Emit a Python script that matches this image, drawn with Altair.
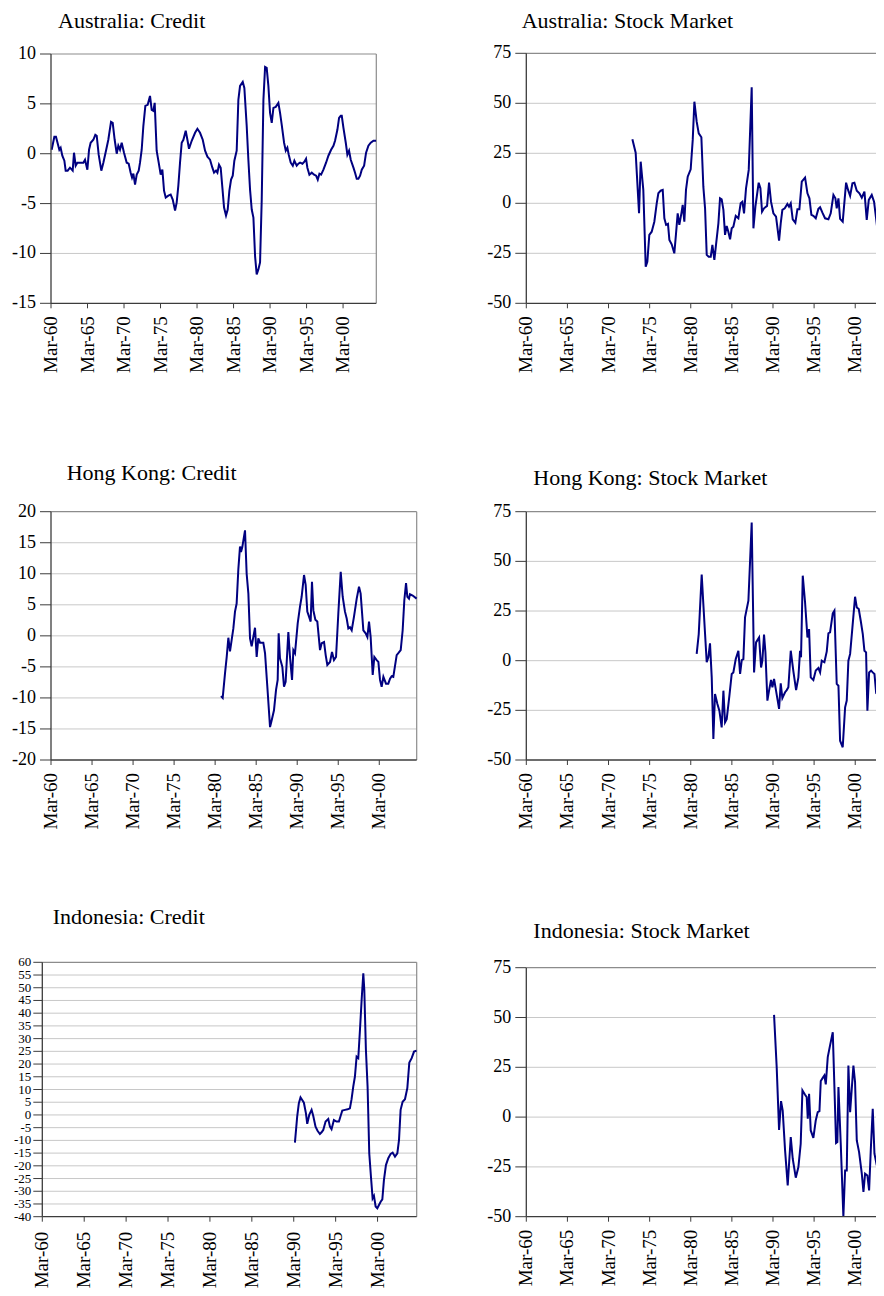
import altair as alt
import pandas as pd

# ---------------- data (x = year, where 1960 = "Mar-60") ----------------
aus_credit_year = [1960.09, 1960.46, 1960.68, 1961.14, 1961.32, 1961.55, 1961.83, 1962.01, 1962.28, 1962.60,
                   1962.97, 1963.15, 1963.38, 1963.61, 1963.97, 1964.43, 1964.66, 1964.98, 1965.21, 1965.43,
                   1965.80, 1966.07, 1966.26, 1966.53, 1966.89, 1967.17, 1967.53, 1967.85, 1968.22, 1968.45,
                   1968.72, 1969.00, 1969.22, 1969.45, 1969.68, 1970.00, 1970.37, 1970.64, 1970.91, 1971.10,
                   1971.28, 1971.51, 1971.74, 1972.01, 1972.19, 1972.42, 1972.65, 1972.92, 1973.24, 1973.56,
                   1973.79, 1974.02, 1974.20, 1974.47, 1974.75, 1975.02, 1975.25, 1975.48, 1975.71, 1976.07,
                   1976.39, 1976.67, 1976.99, 1977.21, 1977.44, 1977.67, 1977.90, 1978.13, 1978.45, 1978.68,
                   1978.90, 1979.27, 1979.73, 1980.05, 1980.41, 1980.78, 1981.10, 1981.42, 1981.78, 1982.10,
                   1982.33, 1982.60, 1982.79, 1983.01, 1983.24, 1983.47, 1983.70, 1983.97, 1984.20, 1984.43,
                   1984.66, 1984.89, 1985.11, 1985.43, 1985.66, 1985.89, 1986.26, 1986.48, 1986.80, 1987.03,
                   1987.26, 1987.49, 1987.72, 1987.95, 1988.17, 1988.40, 1988.63, 1988.86, 1989.09, 1989.32,
                   1989.54, 1989.77, 1990.00, 1990.23, 1990.46, 1990.78, 1991.14, 1991.37, 1991.60, 1991.92,
                   1992.15, 1992.37, 1992.56, 1992.83, 1993.11, 1993.33, 1993.65, 1993.88, 1994.11, 1994.43,
                   1994.70, 1994.93, 1995.11, 1995.39, 1995.71, 1996.03, 1996.30, 1996.53, 1996.76, 1996.99,
                   1997.31, 1997.67, 1997.99, 1998.36, 1998.68, 1998.90, 1999.22, 1999.45, 1999.68, 1999.82,
                   2000.05, 2000.37, 2000.59, 2000.82, 2001.05, 2001.42, 2001.64, 2001.87, 2002.10, 2002.33,
                   2002.56, 2002.88, 2003.15, 2003.47, 2003.79, 2004.16, 2004.52]
aus_credit_val = [0.4, 1.7, 1.7, 0.4, 0.6, -0.2, -0.7, -1.7, -1.7, -1.4,
                  -1.7, 0.1, -1.2, -0.9, -0.9, -0.9, -0.6, -1.6, 0.4, 1.1,
                  1.4, 1.9, 1.8, -0.1, -1.7, -0.9, 0.3, 1.4, 3.2, 3.1,
                  1.4, 0.0, 0.8, 0.4, 1.1, 0.1, -0.9, -1.0, -1.9, -2.4,
                  -2.0, -3.1, -2.1, -1.7, -0.9, 0.4, 2.8, 4.8, 4.9, 5.8,
                  4.4, 4.3, 5.1, 0.3, -0.9, -2.1, -1.6, -3.7, -4.4, -4.2,
                  -4.1, -4.6, -5.7, -4.9, -3.2, -0.9, 1.1, 1.4, 2.3, 1.4,
                  0.5, 1.3, 2.1, 2.5, 2.1, 1.4, 0.3, -0.3, -0.6, -1.4,
                  -1.9, -1.7, -1.9, -1.1, -1.4, -3.4, -5.4, -6.2, -5.6, -3.7,
                  -2.6, -2.2, -0.7, 0.3, 5.4, 6.8, 7.2, 6.6, 2.8, -0.6,
                  -3.6, -5.6, -6.4, -10.3, -12.1, -11.6, -10.9, -4.6, 5.4, 8.7,
                  8.6, 6.8, 4.1, 3.1, 4.6, 4.7, 5.1, 4.1, 2.9, 1.1,
                  0.3, 0.6, -0.1, -0.9, -1.2, -0.7, -1.2, -1.0, -0.9, -1.0,
                  -0.8, -0.5, -1.4, -2.1, -1.9, -2.1, -2.2, -2.6, -2.0, -2.1,
                  -1.6, -0.9, -0.2, 0.4, 0.8, 1.3, 2.4, 3.6, 3.8, 3.8,
                  2.6, 1.1, -0.1, 0.3, -0.6, -1.4, -1.9, -2.5, -2.5, -2.2,
                  -1.6, -1.2, 0.1, 0.8, 1.1, 1.3, 1.3]

aus_stock_year = [1972.90, 1973.30, 1973.71, 1973.91, 1974.23, 1974.52, 1974.72, 1974.96, 1975.25, 1975.57,
                  1975.86, 1976.06, 1976.34, 1976.59, 1976.79, 1977.00, 1977.23, 1977.40, 1977.68, 1978.00,
                  1978.21, 1978.41, 1978.61, 1978.86, 1979.02, 1979.22, 1979.42, 1979.63, 1979.99, 1980.24,
                  1980.44, 1980.72, 1980.97, 1981.29, 1981.53, 1981.74, 1981.94, 1982.18, 1982.43, 1982.63,
                  1982.87, 1983.07, 1983.36, 1983.56, 1983.76, 1983.97, 1984.17, 1984.37, 1984.57, 1984.78,
                  1984.98, 1985.18, 1985.47, 1985.79, 1986.07, 1986.28, 1986.48, 1986.72, 1987.05, 1987.41,
                  1987.62, 1987.86, 1988.26, 1988.47, 1988.67, 1988.91, 1989.28, 1989.52, 1989.76, 1990.05,
                  1990.37, 1990.74, 1990.94, 1991.14, 1991.43, 1991.75, 1991.95, 1992.16, 1992.40, 1992.72,
                  1992.97, 1993.21, 1993.50, 1993.90, 1994.19, 1994.43, 1994.67, 1994.91, 1995.20, 1995.52,
                  1995.73, 1996.01, 1996.33, 1996.74, 1997.02, 1997.35, 1997.59, 1997.75, 1997.96, 1998.16,
                  1998.48, 1998.89, 1999.13, 1999.38, 1999.66, 1999.90, 2000.19, 2000.51, 2000.80, 2001.12,
                  2001.40, 2001.65, 2002.01, 2002.29, 2002.54, 2002.82, 2003.11, 2003.45]
aus_stock_val = [32.0, 25.3, -5.0, 20.8, 6.7, -31.7, -29.2, -15.8, -14.2, -9.2,
                 0.0, 5.0, 6.3, 6.7, -7.5, -10.8, -10.3, -18.3, -20.5, -25.0,
                 -15.0, -5.0, -10.8, -5.0, -0.8, -9.2, 6.7, 13.3, 17.0, 31.7,
                 50.8, 40.8, 35.0, 33.0, 8.3, -2.5, -25.8, -26.7, -26.7, -20.8,
                 -28.3, -20.8, -10.0, 2.5, 2.0, -3.3, -15.8, -11.3, -14.2, -18.0,
                 -12.5, -11.7, -6.3, -7.5, 0.0, 0.8, -5.0, 7.5, 16.7, 58.0,
                 -12.5, -1.7, 10.3, 7.5, -4.2, -2.5, -1.3, 10.3, 0.8, -5.0,
                 -6.7, -18.7, -10.0, -3.3, -2.5, -0.3, -1.7, 0.0, -8.0, -9.7,
                 -3.0, -3.0, 10.8, 12.8, 5.0, 2.5, -5.8, -6.3, -7.5, -2.8,
                 -2.0, -4.7, -7.5, -8.0, -5.0, 4.2, 2.5, -2.5, 2.5, -7.8,
                 -9.2, 10.3, 6.7, 3.7, 10.0, 10.3, 6.3, 5.0, 2.8, 5.8,
                 -8.3, 1.7, 4.2, 0.8, -7.5, -17.5, -8.3, -1.7]

hk_credit_year = [1980.71, 1980.92, 1981.20, 1981.41, 1981.61, 1981.81, 1982.01, 1982.22, 1982.42, 1982.62,
                  1982.83, 1983.03, 1983.15, 1983.31, 1983.64, 1983.84, 1984.05, 1984.25, 1984.45, 1984.65,
                  1984.86, 1985.06, 1985.26, 1985.47, 1985.87, 1986.08, 1986.36, 1986.69, 1986.89, 1987.17,
                  1987.42, 1987.62, 1987.74, 1987.90, 1988.19, 1988.39, 1988.59, 1988.92, 1989.12, 1989.37,
                  1989.53, 1989.73, 1990.06, 1990.34, 1990.54, 1990.83, 1991.03, 1991.23, 1991.44, 1991.64,
                  1991.80, 1991.97, 1992.21, 1992.45, 1992.78, 1992.98, 1993.27, 1993.47, 1993.67, 1994.00,
                  1994.24, 1994.48, 1994.73, 1995.01, 1995.30, 1995.54, 1995.82, 1996.03, 1996.23, 1996.43,
                  1996.64, 1996.92, 1997.25, 1997.53, 1997.73, 1998.06, 1998.34, 1998.55, 1998.75, 1998.95,
                  1999.20, 1999.40, 1999.68, 1999.89, 2000.09, 2000.29, 2000.50, 2000.82, 2001.10, 2001.31,
                  2001.51, 2001.71, 2002.12, 2002.32, 2002.61, 2002.85, 2003.05, 2003.26, 2003.42, 2003.62,
                  2003.74, 2004.07, 2004.55]
hk_credit_val = [-9.7, -10.0, -6.1, -3.4, -0.3, -2.5, -0.7, 1.2, 3.9, 5.2,
                 10.8, 14.4, 13.5, 14.3, 17.0, 10.0, 6.8, -0.4, -1.7, -0.2,
                 1.3, -3.4, -0.4, -1.1, -1.1, -2.8, -8.2, -14.7, -13.6, -12.0,
                 -8.7, -7.1, 0.4, -3.6, -5.0, -8.2, -7.4, 0.6, -3.4, -7.1,
                 -2.3, -2.8, 2.0, 4.7, 6.3, 9.8, 8.2, 3.9, 3.1, 2.3,
                 8.7, 4.1, 2.6, 2.3, -2.3, -1.2, -1.0, -3.1, -4.7, -4.2,
                 -2.6, -3.9, -3.4, 3.6, 10.3, 6.3, 3.9, 2.8, 1.2, 1.4,
                 0.9, 3.1, 6.0, 7.9, 6.8, 0.9, 0.4, -0.2, 2.3, -0.2,
                 -6.3, -3.4, -3.9, -4.2, -7.1, -8.2, -6.6, -7.7, -7.7, -6.9,
                 -6.5, -6.6, -3.1, -2.8, -2.3, 0.9, 5.7, 8.5, 6.3, 6.0,
                 6.7, 6.5, 6.0]

hk_stock_year = [1980.72, 1980.97, 1981.33, 1981.53, 1981.74, 1981.94, 1982.14, 1982.34, 1982.55, 1982.75,
                 1982.95, 1983.24, 1983.48, 1983.76, 1983.97, 1984.17, 1984.37, 1984.70, 1984.98, 1985.18,
                 1985.47, 1985.79, 1986.00, 1986.20, 1986.40, 1986.60, 1987.01, 1987.41, 1987.70, 1987.94,
                 1988.31, 1988.55, 1988.71, 1988.91, 1989.08, 1989.32, 1989.52, 1989.76, 1989.93, 1990.13,
                 1990.37, 1990.74, 1990.94, 1991.14, 1991.47, 1991.67, 1991.87, 1992.16, 1992.48, 1992.81,
                 1993.09, 1993.29, 1993.41, 1993.62, 1993.90, 1994.19, 1994.39, 1994.59, 1994.91, 1995.20,
                 1995.52, 1995.73, 1995.93, 1996.25, 1996.54, 1996.74, 1996.94, 1997.27, 1997.47, 1997.75,
                 1997.96, 1998.16, 1998.48, 1998.77, 1998.97, 1999.17, 1999.38, 1999.66, 1999.98, 2000.19,
                 2000.43, 2000.67, 2000.92, 2001.12, 2001.32, 2001.48, 2001.69, 2001.93, 2002.13, 2002.34,
                 2002.54, 2002.70, 2002.94, 2003.23, 2003.50]
hk_stock_val = [3.4, 13.4, 43.3, 28.5, 13.4, -0.8, 1.7, 8.7, -8.4, -39.4,
                -16.8, -21.8, -25.2, -33.6, -15.1, -31.0, -29.4, -17.6, -6.7, -5.9,
                0.8, 5.0, -6.7, 0.3, 0.8, 21.8, 30.2, 69.6, -5.9, 9.2,
                11.7, -3.4, 0.0, 13.1, 4.2, -20.1, -15.1, -9.7, -13.4, -9.2,
                -15.1, -24.3, -11.4, -18.8, -15.9, -14.8, -13.4, 5.0, -5.4, -14.8,
                -8.4, 5.0, 1.7, 42.8, 29.4, 11.7, 15.9, -8.4, -9.7, -5.0,
                -3.7, -5.9, 0.0, -0.8, 4.7, 13.8, 14.3, 23.8, 25.2, -11.7,
                -12.6, -40.3, -43.6, -23.5, -20.1, 0.0, 3.4, 16.8, 32.2, 26.8,
                26.0, 20.1, 13.4, 5.0, 4.2, -25.2, -5.9, -5.0, -5.9, -6.7,
                -15.9, -15.4, -21.8, -10.1, 10.1]

indo_credit_year = [1990.14, 1990.41, 1990.61, 1990.81, 1991.01, 1991.21, 1991.45, 1991.61, 1991.85, 1992.13,
                    1992.33, 1992.60, 1992.84, 1993.12, 1993.32, 1993.52, 1993.80, 1994.12, 1994.32, 1994.51,
                    1994.79, 1995.11, 1995.39, 1995.59, 1995.79, 1996.11, 1996.43, 1996.70, 1996.90, 1997.10,
                    1997.30, 1997.50, 1997.70, 1997.90, 1998.10, 1998.30, 1998.42, 1998.61, 1998.81, 1999.01,
                    1999.21, 1999.41, 1999.57, 1999.77, 1999.97, 2000.17, 2000.37, 2000.57, 2000.76, 2001.00,
                    2001.28, 2001.56, 2001.80, 2002.08, 2002.36, 2002.56, 2002.75, 2002.99, 2003.27, 2003.55,
                    2003.79, 2004.07, 2004.35, 2004.65]
indo_credit_val = [-10.9, -0.7, 4.6, 6.9, 5.9, 4.8, 0.7, -3.5, 0.0, 2.0,
                   -0.4, -4.6, -6.2, -7.5, -6.8, -5.9, -2.6, -1.6, -4.6, -5.6,
                   -2.0, -2.6, -2.6, -0.4, 1.7, 2.0, 2.2, 2.6, 6.2, 11.1,
                   15.1, 22.9, 22.3, 33.4, 45.2, 55.7, 49.1, 25.6, 11.1, -15.1,
                   -24.2, -32.8, -31.8, -36.0, -36.7, -35.4, -34.1, -33.2, -25.6, -19.7,
                   -17.0, -15.3, -14.8, -16.4, -15.1, -9.8, 2.0, 5.2, 6.2, 10.5,
                   20.6, 22.3, 24.9, 25.3]

indo_stock_year = [1990.13, 1990.45, 1990.74, 1990.98, 1991.18, 1991.47, 1991.79, 1992.16, 1992.40, 1992.77,
                   1993.09, 1993.37, 1993.58, 1993.90, 1994.10, 1994.23, 1994.39, 1994.59, 1994.91, 1995.20,
                   1995.44, 1995.65, 1995.81, 1996.05, 1996.25, 1996.42, 1996.66, 1996.94, 1997.27, 1997.47,
                   1997.67, 1997.83, 1997.96, 1998.24, 1998.56, 1998.77, 1998.97, 1999.17, 1999.38, 1999.78,
                   1999.98, 2000.19, 2000.47, 2000.80, 2001.00, 2001.20, 2001.48, 2001.69, 2001.89, 2002.13,
                   2002.34, 2002.62, 2002.82, 2003.03, 2003.50]
indo_stock_val = [51.3, 25.1, -6.4, 8.0, 3.3, -16.7, -34.3, -10.0, -20.9, -30.4,
                  -25.1, -13.4, 13.4, 11.2, 10.0, -0.8, 11.7, -6.7, -10.4, -1.7,
                  2.5, 3.0, 18.1, 19.7, 20.9, 16.4, 30.1, 36.0, 42.6, 15.1,
                  -13.0, -12.5, 15.1, -13.4, -50.0, -26.8, -26.8, 25.9, 2.5, 25.9,
                  17.6, -11.7, -17.6, -28.4, -37.6, -28.4, -29.3, -36.8, -16.7, 4.2,
                  -18.4, -24.2, -11.7, 13.4, 33.4]

x_tick_years = [1960, 1965, 1970, 1975, 1980, 1985, 1990, 1995, 2000]
x_tick_labels = ["Mar-60", "Mar-65", "Mar-70", "Mar-75", "Mar-80", "Mar-85", "Mar-90", "Mar-95", "Mar-00"]
ticks_credit_aus = [-15, -10, -5, 0, 5, 10]
ticks_credit_hk = [-20, -15, -10, -5, 0, 5, 10, 15, 20]
ticks_credit_indo = list(range(-40, 65, 5))
ticks_stock = [-50, -25, 0, 25, 50, 75]

titles = ["Australia: Credit", "Australia: Stock Market",
          "Hong Kong: Credit", "Hong Kong: Stock Market",
          "Indonesia: Credit", "Indonesia: Stock Market"]

# ---------------- layout (canvas pixels) ----------------
CANVAS_W, CANVAS_H = 868, 1280
FONT = "Liberation Serif"
LINE_COLOR = "#000080"
AXIS_COLOR = "#3c3c3c"
GRID_COLOR = "#c8c8c8"
BORDER_COLOR = "#8c8c8c"

panels = [
    dict(title=titles[0], year=aus_credit_year, val=aus_credit_val, xdom=[1960, 2004.55], yticks=ticks_credit_aus,
         xr=[43, 368.3], yr=[295.3, 46], tdx=7, tdy=-26.2, ylab=18, ytick=11, ypad=4, xpad=8, rborder=True),
    dict(title=titles[1], year=aus_stock_year, val=aus_stock_val, xdom=[1960, 2003.5], yticks=ticks_stock,
         xr=[518.3, 876], yr=[295.3, 45.3], tdx=-4.6, tdy=-25.3, ylab=18, ytick=11, ypad=4, xpad=8, rborder=False),
    dict(title=titles[2], year=hk_credit_year, val=hk_credit_val, xdom=[1960, 2004.56], yticks=ticks_credit_hk,
         xr=[43, 408.7], yr=[752, 503.7], tdx=15.7, tdy=-31.7, ylab=18, ytick=11, ypad=4, xpad=8, rborder=True),
    dict(title=titles[3], year=hk_stock_year, val=hk_stock_val, xdom=[1960, 2003.5], yticks=ticks_stock,
         xr=[518.3, 876], yr=[752, 503.7], tdx=7, tdy=-26.7, ylab=18, ytick=11, ypad=4, xpad=8, rborder=False),
    dict(title=titles[4], year=indo_credit_year, val=indo_credit_val, xdom=[1960, 2004.67], yticks=ticks_credit_indo,
         xr=[34.3, 408.7], yr=[1208.7, 954.3], tdx=10.4, tdy=-38.3, ylab=13, ytick=9, ypad=2, xpad=10, rborder=True),
    dict(title=titles[5], year=indo_stock_year, val=indo_stock_val, xdom=[1960, 2003.5], yticks=ticks_stock,
         xr=[518.3, 876], yr=[1208.7, 959.7], tdx=7, tdy=-29.4, ylab=18, ytick=11, ypad=4, xpad=8, rborder=False),
]


def make_panel(p):
    xs = alt.Scale(domain=p["xdom"], range=p["xr"], nice=False, zero=False)
    ys = alt.Scale(domain=[p["yticks"][0], p["yticks"][-1]], range=p["yr"], nice=False, zero=False)
    xmin, xmax = p["xdom"]
    ymin, ymax = p["yticks"][0], p["yticks"][-1]
    one = pd.DataFrame({"a": [0]})
    yt = pd.DataFrame({"v": p["yticks"], "lab": [str(v) for v in p["yticks"]]})
    xt = pd.DataFrame({"t": x_tick_years, "lab": x_tick_labels})

    def XD(v):
        return alt.XDatum(v, type="quantitative", scale=xs, axis=None)

    def YD(v):
        return alt.YDatum(v, type="quantitative", scale=ys, axis=None)

    YF = alt.Y("v:Q", scale=ys, axis=None)
    XF = alt.X("t:Q", scale=xs, axis=None)

    layers = []
    # gridlines
    layers.append(alt.Chart(yt.iloc[1:-1]).mark_rule(color=GRID_COLOR, strokeWidth=1).encode(
        y=YF, x=XD(xmin), x2=alt.X2Datum(xmax)))
    # top border
    layers.append(alt.Chart(one).mark_rule(color=BORDER_COLOR, strokeWidth=1.2).encode(
        y=YD(ymax), x=XD(xmin), x2=alt.X2Datum(xmax)))
    if p["rborder"]:
        layers.append(alt.Chart(one).mark_rule(color=BORDER_COLOR, strokeWidth=1.2).encode(
            x=XD(xmax), y=YD(ymin), y2=alt.Y2Datum(ymax)))
    # data line
    df = pd.DataFrame({"year": p["year"], "value": p["val"]})
    layers.append(alt.Chart(df).mark_line(color=LINE_COLOR, strokeWidth=2).encode(
        x=alt.X("year:Q", scale=xs, axis=None),
        y=alt.Y("value:Q", scale=ys, axis=None)))
    # y axis line, ticks, labels
    layers.append(alt.Chart(one).mark_rule(color=AXIS_COLOR, strokeWidth=1.3).encode(
        x=XD(xmin), y=YD(ymin), y2=alt.Y2Datum(ymax)))
    layers.append(alt.Chart(yt).mark_rule(color=AXIS_COLOR, strokeWidth=1, xOffset=-p["ytick"]).encode(
        y=YF, x=XD(xmin), x2=alt.X2Datum(xmin)))
    layers.append(alt.Chart(yt).mark_text(
        align="right", baseline="middle", dx=-(p["ytick"] + p["ypad"]),
        font=FONT, fontSize=p["ylab"], color="black").encode(
        y=YF, x=XD(xmin), text="lab:N"))
    # x axis line, ticks, labels
    layers.append(alt.Chart(one).mark_rule(color=AXIS_COLOR, strokeWidth=1.3).encode(
        y=YD(ymin), x=XD(xmin), x2=alt.X2Datum(xmax)))
    layers.append(alt.Chart(xt).mark_rule(color=AXIS_COLOR, strokeWidth=1, y2Offset=5).encode(
        x=XF, y=YD(ymin), y2=alt.Y2Datum(ymin)))
    layers.append(alt.Chart(xt).mark_text(
        align="right", baseline="middle", angle=270, yOffset=5 + p["xpad"],
        font=FONT, fontSize=19, color="black").encode(
        x=XF, y=YD(ymin), text="lab:N"))
    # panel title
    layers.append(alt.Chart(pd.DataFrame({"t": [p["title"]]})).mark_text(
        align="left", baseline="alphabetic", dx=p["tdx"], dy=p["tdy"],
        font=FONT, fontSize=22, color="black").encode(
        x=XD(xmin), y=YD(ymax), text="t:N"))
    return alt.layer(*layers)


chart = alt.layer(*[make_panel(p) for p in panels]).resolve_scale(
    x="independent", y="independent"
).properties(
    width=CANVAS_W, height=CANVAS_H, padding=0,
    autosize=alt.AutoSizeParams(type="none"),
).configure_view(stroke=None)

chart.save("out.html", embed_options={"renderer": "svg", "actions": False})
